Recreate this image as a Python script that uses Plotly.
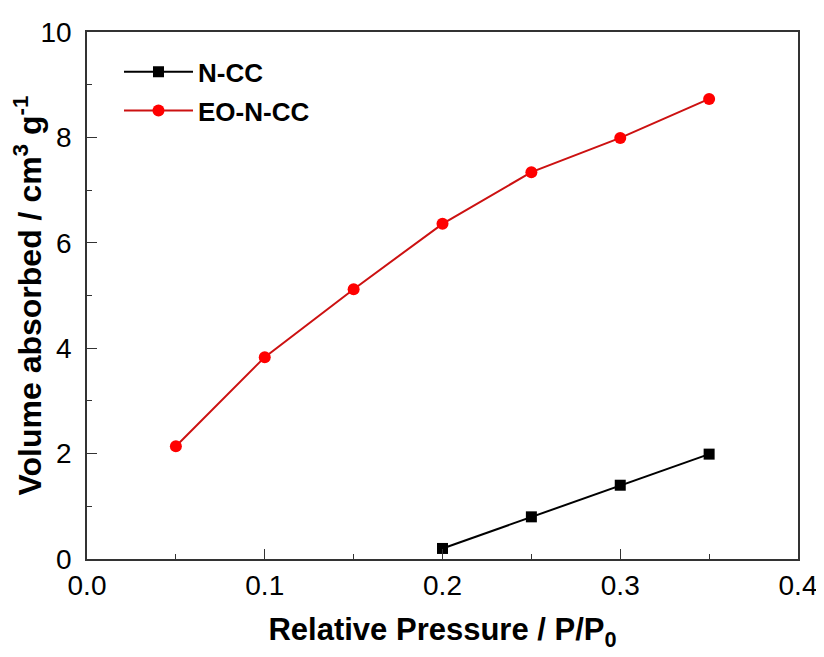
import plotly.graph_objects as go

pressure_ncc = [0.20, 0.25, 0.30, 0.35]
volume_ncc = [0.20, 0.80, 1.40, 1.99]

pressure_eo = [0.05, 0.10, 0.15, 0.20, 0.25, 0.30, 0.35]
volume_eo = [2.14, 3.83, 5.12, 6.36, 7.34, 7.99, 8.73]

x_ticks = [0.0, 0.1, 0.2, 0.3, 0.4]
y_ticks = [0, 2, 4, 6, 8, 10]

FONT = "Liberation Sans, Arial, sans-serif"

fig = go.Figure()
fig.add_trace(go.Scatter(
    x=pressure_ncc, y=volume_ncc, name="N-CC", mode="lines+markers",
    line=dict(color="#000000", width=2),
    marker=dict(symbol="square", size=11, color="#000000"),
    legendgroup="a"))
fig.add_trace(go.Scatter(
    x=pressure_eo, y=volume_eo, name="EO-N-CC", mode="lines+markers",
    line=dict(color="#cc1111", width=2),
    marker=dict(symbol="circle", size=12, color="#ff0000"),
    legendgroup="b"))

axis_common = dict(
    showline=True, linecolor="#333333", linewidth=1.5, mirror=True,
    ticks="inside", ticklen=10, tickwidth=1.2, tickcolor="#333333",
    showgrid=False, zeroline=False, automargin=False,
    tickfont=dict(family=FONT, size=28, color="#000000"),
)

fig.update_xaxes(
    range=[0, 0.4], tickvals=x_ticks, ticktext=[f"{v:.1f}" for v in x_ticks],
    minor=dict(ticks="inside", ticklen=5, tickwidth=1.2, tickcolor="#333333", dtick=0.05, tick0=0),
    title=dict(text="<b>Relative Pressure / P/P<sub>0</sub></b>",
               font=dict(family=FONT, size=31, color="#000000"), standoff=18),
    ticklabelstandoff=1,
    **axis_common)
fig.update_yaxes(
    range=[0, 10], tickvals=y_ticks, ticktext=[str(v) for v in y_ticks],
    minor=dict(ticks="inside", ticklen=5, tickwidth=1.2, tickcolor="#333333", dtick=1, tick0=0),
    title=dict(text="<b>Volume absorbed / cm<sup>3</sup> g<sup>-1</sup></b>",
               font=dict(family=FONT, size=32, color="#000000"), standoff=6),
    ticklabelstandoff=8,
    **axis_common)

fig.update_layout(
    width=816, height=649,
    margin=dict(l=79, r=26, t=24, b=98),
    paper_bgcolor="white", plot_bgcolor="white",
    showlegend=True,
    legend=dict(x=0.045, y=0.969, xanchor="left", yanchor="top",
                font=dict(family=FONT, size=26, color="#000000", weight="bold"),
                bgcolor="rgba(0,0,0,0)", traceorder="grouped", tracegroupgap=2,
                itemwidth=69),
)

fig.write_html("out.html")
